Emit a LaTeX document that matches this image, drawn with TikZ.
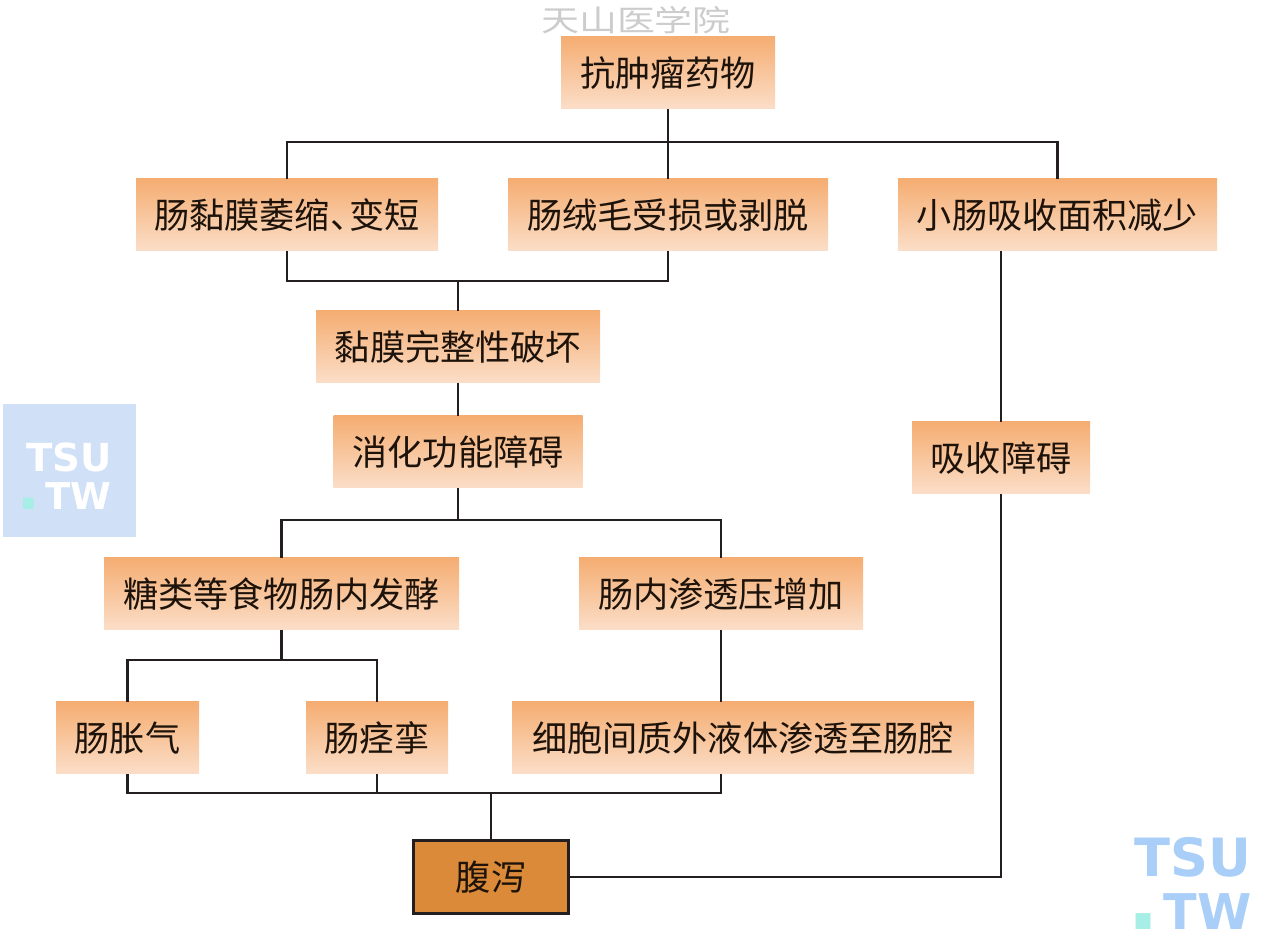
\documentclass[tikz,border=0pt]{standalone}
\usepackage{fontspec}
\newfontfamily\cjk{Noto Sans CJK SC}
\newfontfamily\marksans[BoldFont={DejaVu Sans Bold}]{DejaVu Sans}
\usetikzlibrary{positioning,calc}
\definecolor{boxtop}{HTML}{F5AD72}
\definecolor{boxbottom}{HTML}{FBDEC8}
\definecolor{boxdark}{HTML}{DA8A38}
\definecolor{linedark}{HTML}{231F20}
\definecolor{marklight}{HTML}{CFE0F7}
\definecolor{markblue}{HTML}{A9CEF8}
\definecolor{markteal}{HTML}{A6EEE6}
\tikzset{
  orangebox/.style={top color=boxtop, bottom color=boxbottom, inner sep=0pt, outer sep=0pt, minimum height=0.72cm,
    font=\cjk\fontsize{10}{12}\selectfont, text=black!85!brown},
  link/.style={draw=linedark, line width=0.8pt},
  bigmark/.style={font=\marksans\bfseries\fontsize{15}{18}\selectfont, text=markblue, inner sep=0pt},
  smallmark/.style={font=\marksans\bfseries\fontsize{11}{13}\selectfont, text=white, inner sep=0pt}
}

\begin{document}
\begin{tikzpicture}
    \useasboundingbox (0,0) rectangle (12.71,9.42);

    % Watermarks
    \node[font=\cjk\fontsize{10.8}{13}\selectfont, text=black!20, inner sep=0pt, yscale=0.78, transform shape] (school) at (6.36,9.215) {天山医学院};
    \fill[marklight] (0.03,4.05) rectangle (1.36,5.38);
    \node[smallmark] (lefttsu) at (0.69,4.85) {TSU};
    \node[smallmark, font=\marksans\bfseries\fontsize{10.5}{13}\selectfont, anchor=base east] (lefttw) at (1.12,4.32)
      {{\fontsize{17}{18}\selectfont\color{markteal}.}\kern1.6pt TW};
    \node[bigmark] (righttsu) at (11.93,0.85) {TSU};
    \node[bigmark, font=\marksans\bfseries\fontsize{14}{16}\selectfont, anchor=base east] (righttw) at (12.525,0.12)
      {{\fontsize{24}{26}\selectfont\color{markteal}.}\kern1.4pt TW};

    % Draw the boxes
    \node[orangebox, minimum width=2.14cm] (drug) at (6.68,8.69) {抗肿瘤药物};
    \node[orangebox, minimum width=3.02cm] (atrophy) at (2.87,7.27) {肠黏膜萎缩、\hspace{-0.45em}变短};
    \node[orangebox, minimum width=3.20cm] (villi) at (6.68,7.27) {肠绒毛受损或剥脱};
    \node[orangebox, minimum width=3.19cm] (area) at (10.575,7.27) {小肠吸收面积减少};
    \node[orangebox, minimum width=2.84cm] (barrier) at (4.58,5.95) {黏膜完整性破坏};
    \node[orangebox, minimum width=2.49cm] (digest) at (4.58,4.90) {消化功能障碍};
    \node[orangebox, minimum width=1.78cm] (absorb) at (10.01,4.84) {吸收障碍};
    \node[orangebox, minimum width=3.55cm] (ferment) at (2.815,3.48) {糖类等食物肠内发酵};
    \node[orangebox, minimum width=2.84cm] (osmotic) at (7.21,3.48) {肠内渗透压增加};
    \node[orangebox, minimum width=1.43cm] (bloat) at (1.275,2.04) {肠胀气};
    \node[orangebox, minimum width=1.42cm] (spasm) at (3.77,2.04) {肠痉挛};
    \node[orangebox, minimum width=4.62cm] (fluid) at (7.43,2.04) {细胞间质外液体渗透至肠腔};
    \node[draw=linedark, line width=0.9pt, fill=boxdark, minimum width=1.55cm, minimum height=0.73cm, inner sep=0pt,
      font=\cjk\fontsize{10}{12}\selectfont, text=black!85!brown] (diarrhea) at (4.91,0.65) {腹泻};

    % Bus lines between the rows
    \coordinate (drugbus) at (6.68,8.0);
    \coordinate (villibus) at (4.58,6.61);
    \coordinate (digestbus) at (4.58,4.22);
    \coordinate (fermentbus) at (2.815,2.82);
    \coordinate (lastbus) at (4.91,1.49);

    % Connectors
    \draw[link] (drug.south) -- (villi.north);
    \draw[link] (atrophy.north) |- (drugbus) -| (area.north);
    \draw[link] (atrophy.south) |- (villibus) -| (villi.south);
    \draw[link] (villibus) -- (barrier.north);
    \draw[link] (barrier.south) -- (digest.north);
    \draw[link] (digest.south) -- (digestbus);
    \draw[link] (ferment.north) |- (digestbus) -| (osmotic.north);
    \draw[link] (ferment.south) -- (fermentbus);
    \draw[link] (bloat.north) |- (fermentbus) -| (spasm.north);
    \draw[link] (osmotic.south) -- (osmotic.south |- fluid.north);
    \draw[link] (bloat.south) |- (lastbus) -| (osmotic.south |- fluid.south);
    \draw[link] (spasm.south) -- (spasm.south |- lastbus);
    \draw[link] (lastbus) -- (diarrhea.north);
    \draw[link] (area.south -| absorb.north) -- (absorb.north);
    \draw[link] (absorb.south) |- (diarrhea.east);
\end{tikzpicture}
\end{document}
